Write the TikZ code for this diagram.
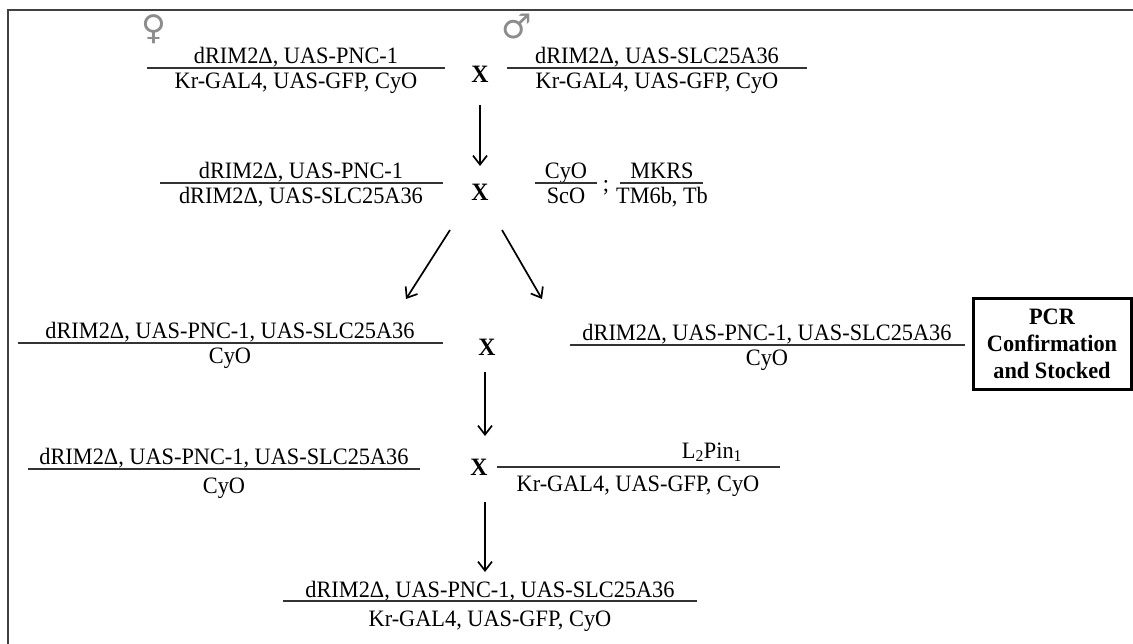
\documentclass[tikz,border=0pt]{standalone}
\usepackage{fontspec}
\setmainfont{Liberation Serif}[FakeStretch=0.95]
\newfontfamily\symfont{DejaVu Sans}
\usetikzlibrary{arrows.meta}
\begin{document}
\begin{tikzpicture}[x=1pt,y=-1pt,
  txt/.style={inner sep=0pt,anchor=base,font=\fontsize{23.5}{26}\selectfont},
  bar/.style={line width=1.3pt,black!80},
  flow/.style={line width=1.7pt,-{Straight Barb[length=9pt,width=14pt,line width=1.7pt]}},
  cross/.style={inner sep=0pt,font=\fontsize{25}{26}\selectfont\bfseries},
  sex/.style={inner sep=0pt,text=black!45,font=\symfont\fontsize{34}{36}\selectfont},
  pcrbox/.style={draw,line width=3pt,minimum width=158pt,minimum height=91pt,align=center,inner sep=0pt,font=\fontsize{23.5}{27}\selectfont\bfseries},
]
\useasboundingbox (0,0) rectangle (1133,644);
\draw[line width=2pt,black!75] (8,644) -- (8,10) -- (1133,10);

% sexes
\node[sex] (fem) at (154,29) {♀};
\node[sex] (mal) at (517,27) {♂};

% row 1
\node[txt] (r1lt) at (296,64) {dRIM2Δ, UAS-PNC-1};
\draw[bar] (147,68) -- (445,68) coordinate (r1lb);
\node[txt] (r1ll) at (296,89) {Kr-GAL4, UAS-GFP, CyO};
\node[cross] (x1) at (480,74) {X};
\node[txt] (r1rt) at (657,64) {dRIM2Δ, UAS-SLC25A36};
\draw[bar] (507,68) -- (807,68) coordinate (r1rb);
\node[txt] (r1rl) at (657,89) {Kr-GAL4, UAS-GFP, CyO};

% row 2
\node[txt] (r2lt) at (301,179) {dRIM2Δ, UAS-PNC-1};
\draw[bar] (160,183) -- (443,183) coordinate (r2lb);
\node[txt] (r2ll) at (301,204) {dRIM2Δ, UAS-SLC25A36};
\node[cross] (x2) at (480,192) {X};
\node[txt] (r2at) at (566,179) {CyO};
\draw[bar] (535,183) -- (597,183) coordinate (r2ab);
\node[txt] (r2al) at (566,204) {ScO};
\node[txt] (semi) at (606,192) {;};
\node[txt] (r2bt) at (662,179) {MKRS};
\draw[bar] (620,183) -- (703,183) coordinate (r2bb);
\node[txt] (r2bl) at (662,204) {TM6b, Tb};

% row 3
\node[txt] (r3lt) at (230,339) {dRIM2Δ, UAS-PNC-1, UAS-SLC25A36};
\draw[bar] (18,343) -- (443,343) coordinate (r3lb);
\node[txt] (r3ll) at (230,364) {CyO};
\node[cross] (x3) at (487,347) {X};
\node[txt] (r3rt) at (767,341) {dRIM2Δ, UAS-PNC-1, UAS-SLC25A36};
\draw[bar] (570,345) -- (965,345) coordinate (r3rb);
\node[txt] (r3rl) at (767,366) {CyO};
\node[pcrbox] (pcr) at (1052,344) {PCR\\Confirmation\\and Stocked};

% row 4
\node[txt] (r4lt) at (224,464) {dRIM2Δ, UAS-PNC-1, UAS-SLC25A36};
\draw[bar] (28,469) -- (420,469) coordinate (r4lb);
\node[txt] (r4ll) at (224,493) {CyO};
\node[cross] (x4) at (479,467) {X};
\node[txt] (r4rt) at (712,458) {L\textsubscript{2}Pin\textsubscript{1}};
\draw[bar] (497,467) -- (780,467) coordinate (r4rb);
\node[txt] (r4rl) at (638,491) {Kr-GAL4, UAS-GFP, CyO};

% row 5
\node[txt] (r5t) at (490,597) {dRIM2Δ, UAS-PNC-1, UAS-SLC25A36};
\draw[bar] (283,601) -- (697,601) coordinate (r5b);
\node[txt] (r5l) at (490,626) {Kr-GAL4, UAS-GFP, CyO};

% arrows
\coordinate (a1s) at (480,105); \coordinate (a1e) at (480,166);
\coordinate (a2s) at (450,230); \coordinate (a2e) at (406,299);
\coordinate (a3s) at (502,230); \coordinate (a3e) at (542,299);
\coordinate (a4s) at (485,372); \coordinate (a4e) at (485,436);
\coordinate (a5s) at (485,502); \coordinate (a5e) at (485,572);
\draw[flow] (a1s) -- (a1e);
\draw[flow] (a2s) -- (a2e);
\draw[flow] (a3s) -- (a3e);
\draw[flow] (a4s) -- (a4e);
\draw[flow] (a5s) -- (a5e);
\end{tikzpicture}
\end{document}
